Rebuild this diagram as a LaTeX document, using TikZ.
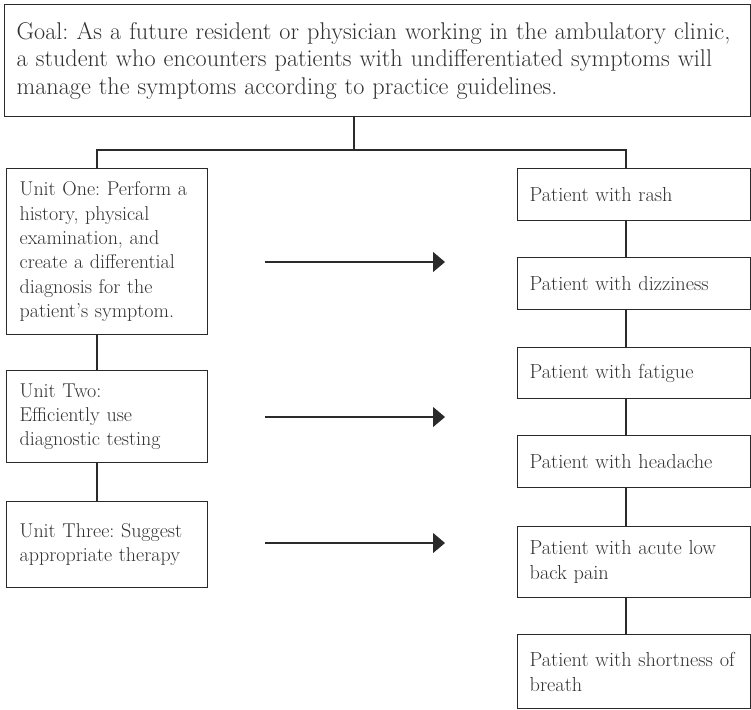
\documentclass[tikz,border=0pt]{standalone}
\usetikzlibrary{arrows.meta}
\definecolor{inkc}{HTML}{2A2A2A}
\definecolor{txtc}{HTML}{303030}
\begin{document}
\frenchspacing
\begin{tikzpicture}[x=1pt,y=-1pt,
  boxbase/.style={draw=inkc, line width=1.3pt, rectangle, anchor=north west,
    align=left, inner ysep=0pt, text=txtc},
  goalbox/.style={boxbase, inner xsep=12pt, text width=722pt, minimum width=746pt,
    font=\fontsize{24.2}{27.5}\selectfont},
  unitbox/.style={boxbase, inner xsep=13pt, text width=175pt, minimum width=201pt,
    font=\fontsize{20}{24.3}\selectfont},
  ptbox/.style={boxbase, inner xsep=12pt, text width=209pt, minimum width=233pt,
    font=\fontsize{20.3}{25}\selectfont},
  link/.style={draw=inkc, line width=1.2pt},
  flowarrow/.style={draw=inkc, line width=1.2pt, -{Triangle[length=12pt,width=20pt]}}
]
\useasboundingbox (0,0) rectangle (751,709);
\clip (0,0) rectangle (751,709);

\node[goalbox, minimum height=112pt] (goal) at (4,4)
  {Goal: As a future resident or physician working in the ambulatory clinic,\\
   a student who encounters patients with undifferentiated symptoms will\\
   manage the symptoms according to practice guidelines.};

\node[unitbox, minimum height=166pt] (u1) at (6,168)
  {Unit One: Perform a\\ history, physical\\ examination, and\\ create a differential\\ diagnosis for the\\ patient's symptom.};
\node[unitbox, minimum height=92pt] (u2) at (6,370)
  {Unit Two:\\ Efficiently use\\ diagnostic testing};
\node[unitbox, minimum height=86pt] (u3) at (6,501)
  {Unit Three: Suggest\\ appropriate therapy};

\node[ptbox, minimum height=52pt] (p1) at (517,168) {Patient with rash};
\node[ptbox, minimum height=52pt] (p2) at (517,257) {Patient with dizziness};
\node[ptbox, minimum height=51pt] (p3) at (517,347) {Patient with fatigue};
\node[ptbox, minimum height=52pt] (p4) at (517,435) {Patient with headache};
\node[ptbox, minimum height=71pt] (p5) at (517,526) {Patient with acute low\\ back pain};
\node[ptbox, minimum height=74pt] (p6) at (517,634) {Patient with shortness of\\ breath};

% tree connectors
\coordinate (j) at (354,150);
\draw[link] (goal.south -| j) -- (j);
\draw[link] (u1.north -| 97,0) |- (j) -| (p1.north -| 626,0);
\draw[link] (u1.south -| 97,0) -- (u2.north -| 97,0);
\draw[link] (u2.south -| 97,0) -- (u3.north -| 97,0);
\draw[link] (p1.south -| 626,0) -- (p2.north -| 626,0);
\draw[link] (p2.south -| 626,0) -- (p3.north -| 626,0);
\draw[link] (p3.south -| 626,0) -- (p4.north -| 626,0);
\draw[link] (p4.south -| 626,0) -- (p5.north -| 626,0);
\draw[link] (p5.south -| 626,0) -- (p6.north -| 626,0);

% arrows
\coordinate (a1s) at (265,262); \coordinate (a1e) at (445,262);
\coordinate (a2s) at (265,417); \coordinate (a2e) at (445,417);
\coordinate (a3s) at (265,543); \coordinate (a3e) at (445,543);
\draw[flowarrow] (a1s) -- (a1e);
\draw[flowarrow] (a2s) -- (a2e);
\draw[flowarrow] (a3s) -- (a3e);
\end{tikzpicture}
\end{document}
